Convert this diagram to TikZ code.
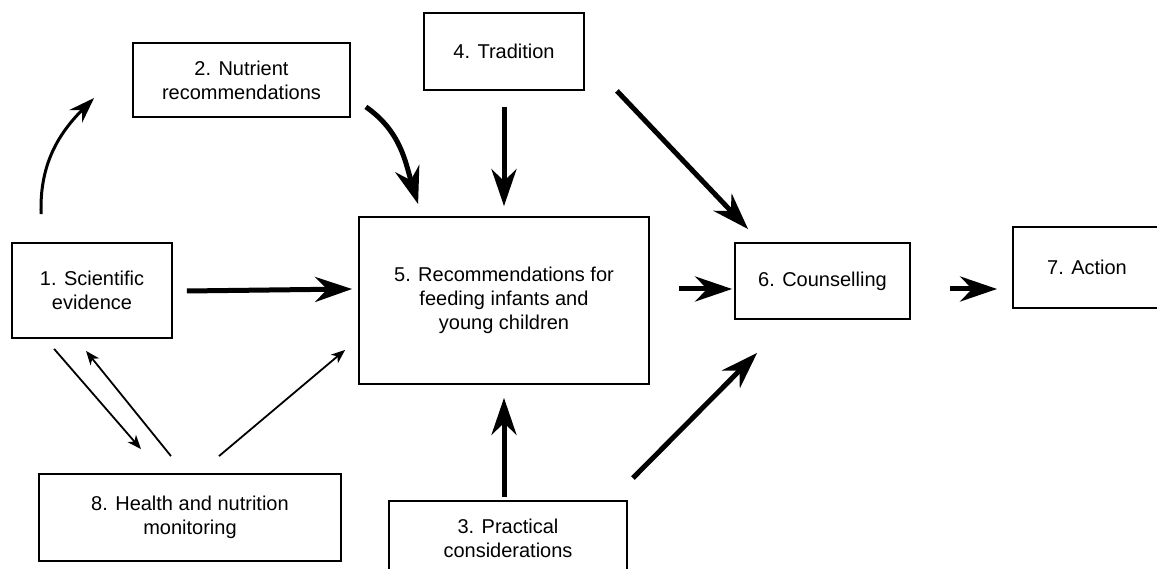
\documentclass[tikz,border=0pt]{standalone}
\usepackage{fontspec}
\setmainfont{Liberation Sans}
\usetikzlibrary{arrows.meta,calc}
\begin{document}
\begin{tikzpicture}[x=1pt,y=1pt,
  box/.style={draw, line width=1.8pt, inner sep=0pt, align=center, font=\fontsize{20}{24}\selectfont},
  thickarr/.style={line width=5pt, -{Stealth[length=37pt,width=25pt,inset=12pt]}},
  medarr/.style={line width=3pt, -{Stealth[length=26pt,width=18pt,inset=9pt]}},
  thinarr/.style={line width=1.8pt, -{Stealth[length=14pt,width=11pt,inset=4pt]}}]
\useasboundingbox (0,0) rectangle (1157,-569);
\clip (0,0) rectangle (1157,-569);
\node[box, minimum width=160pt, minimum height=95pt] (n1) at (92,-290.5) {1. Scientific\\evidence};
\node[box, minimum width=217pt, minimum height=74pt] (n2) at (241.5,-80) {2. Nutrient\\recommendations};
\node[box, minimum width=160pt, minimum height=77pt] (n4) at (504,-51.5) {4. Tradition};
\node[box, minimum width=290pt, minimum height=167pt] (n5) at (504,-300.5) {5. Recommendations for\\feeding infants and\\young children};
\node[box, minimum width=175pt, minimum height=76pt] (n6) at (822.5,-281) {6. Counselling};
\node[box, minimum width=148pt, minimum height=81pt] (n7) at (1087,-267.5) {7. Action};
\node[box, minimum width=302pt, minimum height=87pt] (n8) at (190,-517.5) {8. Health and nutrition\\monitoring};
\node[box, minimum width=238pt, minimum height=74pt] (n3) at (508,-538) {3. Practical\\considerations};
% arrows
\draw[medarr] ($(n1.north west)+(30,28)$) to[out=92,in=225] ($(n2.west)+(-38,-18)$);
\draw[thickarr] ($(n2.south east)+(15,11)$) to[out=-35,in=107] ($(n5.north west)+(60,12)$);
\draw[thickarr] ($(n4.south)+(0,-16)$) -- ($(n5.north)+(0,10)$);
\draw[thickarr] ($(n4.south east)+(32,0)$) -- ($(n6.north west)+(14,13)$);
\draw[thickarr] ($(n5.east)+(29,11.5)$) -- ($(n6.west)+(-2,-8)$);
\draw[thickarr] ($(n6.east)+(39,-8)$) -- ($(n7.west)+(-15,-21.5)$);
\draw[thickarr] ($(n1.east)+(14,-0.5)$) -- ($(n5.west)+(-6,11.5)$);
\draw[thickarr] ($(n3.north)+(-4,3)$) -- ($(n5.south)+(0,-13)$);
\draw[thickarr] ($(n3.north east)+(5,22)$) -- ($(n6.south west)+(23,-33)$);
\draw[thinarr] ($(n1.south west)+(43,-10)$) -- ($(n8.north)+(-49,24)$);
\draw[thinarr] ($(n8.north)+(-19,17)$) -- ($(n1.south)+(-6,-12)$);
\draw[thinarr] ($(n8.north)+(29,17)$) -- ($(n5.south west)+(-13,35)$);
\end{tikzpicture}
\end{document}
